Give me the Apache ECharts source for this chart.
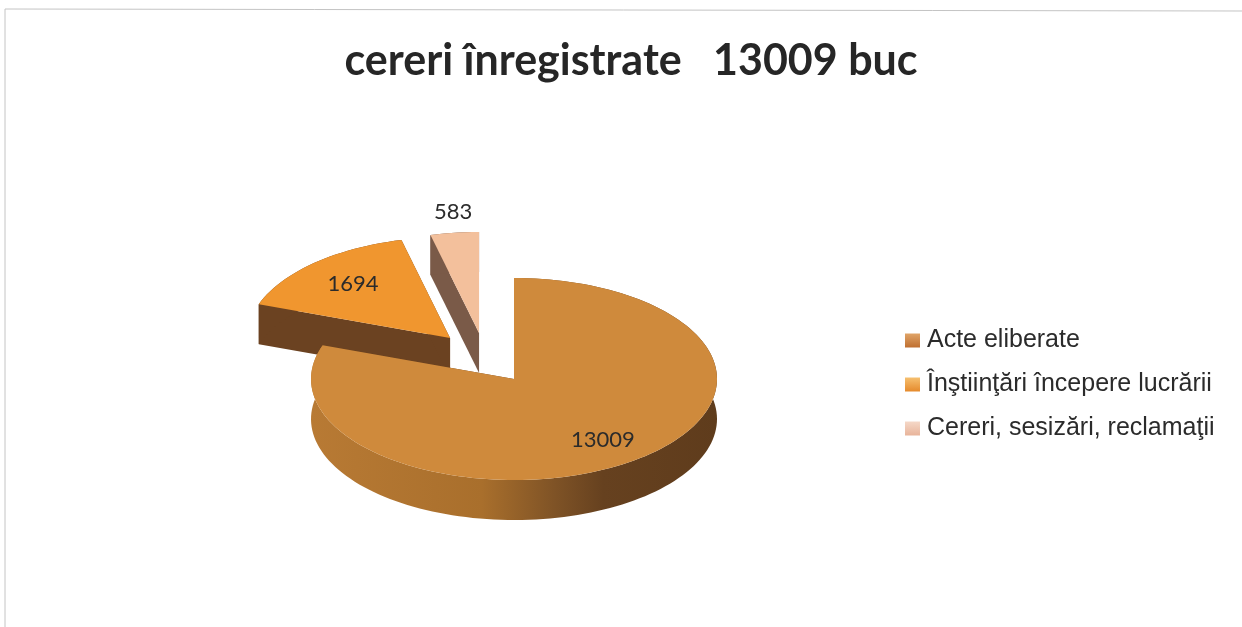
<!DOCTYPE html>
<html>
<head>
<meta charset="utf-8">
<title>cereri inregistrate</title>
<script src="https://cdn.jsdelivr.net/npm/echarts@6/dist/echarts.min.js"></script>
<style>
  html, body { margin: 0; padding: 0; background: #fff; }
  #chart { width: 1242px; height: 627px; }
</style>
</head>
<body>
<div id="chart"></div>
<script>
const categories = ['Acte eliberate', 'Înştiinţări începere lucrării', 'Cereri, sesizări, reclamaţii'];
const values = [13009, 1694, 583];
const chartTitle = 'cereri înregistrate   13009 buc';

// look of the 3d pie
const topColors = ['#cf8a3c', '#f0962f', '#f3c09c'];
const cutColors = ['#6b4420', '#6b4221', '#7a5a48'];
const legendColors = [['#e0a468', '#bf6f30'], ['#f6c070', '#e58a2c'], ['#f5d8c8', '#e8b49a']];
const cx = 514, cy = 379, rx = 203, ry = 101, depth = 40;
// explosion of each slice and place of its label, as fractions of rx / ry
const pull = [[0, 0], [-0.315, -0.406], [-0.172, -0.455]];
const labelAt = [[0.438, 0.604], [-0.478, -0.535], [-0.128, -1.198]];

const total = values.reduce((a, b) => a + b, 0);
const rad = Math.PI / 180;

// the excel 3d view stretches the slices on the far left, so bend the angle a bit
const bend = (deg) => deg - 40 * Math.pow(Math.sin(deg * rad), 4);

const sliceRange = (i) => {
  const before = values.slice(0, i).reduce((a, b) => a + b, 0);
  return [bend(before / total * 360), bend((before + values[i]) / total * 360)];
};

const renderSlice = (i) => () => {
  const ox = cx + pull[i][0] * rx;
  const oy = cy + pull[i][1] * ry;
  const [from, to] = sliceRange(i);
  const onRim = (deg) => [ox + rx * Math.sin(deg * rad), oy - ry * Math.cos(deg * rad)];
  const down = (p) => [p[0], p[1] + depth];

  const rim = [];
  const steps = Math.max(6, Math.round((to - from) / 2));
  for (let s = 0; s <= steps; s++) rim.push(onRim(from + (to - from) * s / steps));

  const apex = [ox, oy];
  const first = rim[0];
  const last = rim[rim.length - 1];
  const wallColor = i === 0
    ? new echarts.graphic.LinearGradient(0, 0, 1, 0, [
        { offset: 0, color: '#b87a34' },
        { offset: 0.42, color: '#a96f2c' },
        { offset: 0.6, color: '#7f5326' },
        { offset: 0.72, color: '#66411f' },
        { offset: 1, color: '#5f3c1c' }
      ])
    : cutColors[i];

  const base = i === 0 ? 30 : 20 - i * 5;
  return {
    type: 'group',
    children: [
      { type: 'polygon', z2: base, shape: { points: [apex, first, down(first), down(apex)] }, style: { fill: cutColors[i] } },
      { type: 'polygon', z2: base, shape: { points: [apex, last, down(last), down(apex)] }, style: { fill: cutColors[i] } },
      { type: 'polygon', z2: base + 1, shape: { points: rim.concat(rim.map(down).reverse()) }, style: { fill: wallColor } },
      { type: 'polygon', z2: base + 2, shape: { points: [apex].concat(rim) }, style: { fill: topColors[i] } },
      {
        type: 'text',
        z2: 50,
        style: {
          x: ox + labelAt[i][0] * rx,
          y: oy + labelAt[i][1] * ry,
          text: String(values[i]),
          align: 'center',
          verticalAlign: 'middle',
          font: '22px Lato',
          fill: '#2b2b2b'
        }
      }
    ]
  };
};

const myChart = echarts.init(document.getElementById('chart'), null, { renderer: 'canvas' });

const option = {
  animation: false,
  backgroundColor: '#ffffff',
  title: {
    text: chartTitle,
    left: 626,
    top: 35,
    textAlign: 'center',
    textStyle: { fontFamily: 'Lato', fontWeight: 'bold', fontSize: 43, color: '#262626' }
  },
  legend: {
    orient: 'vertical',
    left: 900,
    top: 323,
    itemWidth: 15,
    itemHeight: 14,
    itemGap: 19,
    icon: 'rect',
    textStyle: { fontFamily: 'Liberation Sans', fontSize: 25, color: '#2b2b2b', padding: [0, 0, 0, 2] },
    data: categories.map((name, i) => ({
      name,
      itemStyle: {
        color: new echarts.graphic.LinearGradient(0, 0, 0, 1, [
          { offset: 0, color: legendColors[i][0] },
          { offset: 1, color: legendColors[i][1] }
        ])
      }
    }))
  },
  graphic: [
    {
      type: 'polyline',
      silent: true,
      shape: { points: [[5, 627], [5, 9], [1242, 11]] },
      style: { stroke: '#c4c4c4', lineWidth: 1, fill: null }
    }
  ],
  series: categories.map((name, i) => ({
    type: 'custom',
    name,
    silent: true,
    coordinateSystem: 'none',
    itemStyle: { color: topColors[i] },
    data: [[values[i]]],
    renderItem: renderSlice(i)
  }))
};

myChart.setOption(option);
</script>
</body>
</html>
